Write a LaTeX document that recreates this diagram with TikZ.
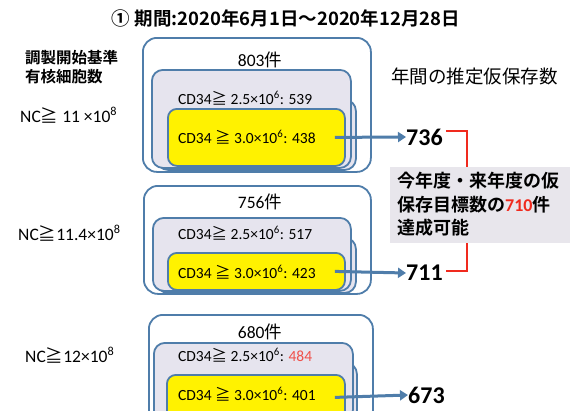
\documentclass[tikz,border=0pt]{standalone}
\usepackage{fontspec}
\setmainfont{Carlito}
\newfontfamily\cjk{Noto Sans CJK JP}
\newfontfamily\cjkb{Noto Sans CJK JP Bold}
\usetikzlibrary{arrows.meta}
\definecolor{bord}{HTML}{4F7DAA}
\definecolor{lav}{HTML}{E6E4EE}
\definecolor{graybg}{HTML}{E8E6EC}
\definecolor{brred}{HTML}{F02A1E}
\definecolor{numred}{HTML}{F0504A}
\begin{document}
\begin{tikzpicture}[x=1pt,y=-1pt,
  outerbox/.style={draw=bord,line width=1.8pt,rounded corners=14pt,fill=white,anchor=north west,inner sep=0pt},
  lavbox/.style={draw=bord,line width=1.8pt,rounded corners=11pt,fill=lav,anchor=north west,inner sep=0pt},
  yelbox/.style={draw=bord,line width=1.8pt,rounded corners=9pt,fill=yellow,anchor=north west,inner sep=0pt},
  cnt/.style={font=\fontsize{17.5}{19}\selectfont,inner sep=0pt},
  cdtxt/.style={font=\fontsize{15.5}{17}\selectfont,anchor=west,inner sep=0pt},
  nctxt/.style={font=\fontsize{17.5}{19}\selectfont,anchor=west,inner sep=0pt},
  bignum/.style={font=\fontsize{24}{26}\selectfont\bfseries,anchor=west,inner sep=0pt},
  arr/.style={draw=bord,line width=3pt,-{Triangle[length=8pt,width=10pt]}},
  brk/.style={draw=brred,line width=2.6pt}
]
\clip (0,0) rectangle (570,410);
\fill[white] (0,0) rectangle (570,410);

% title
\node[font=\fontsize{18.5}{20}\selectfont\cjkb,inner sep=0pt] (title) at (286,18) {① 期間:2020年6月1日〜2020年12月28日};
\node[font=\fontsize{15.5}{19}\selectfont\cjkb,align=left,anchor=west,inner sep=0pt] (crit) at (25,67) {調製開始基準\\有核細胞数};
\node[font=\fontsize{18.5}{20}\selectfont\cjk,anchor=west,inner sep=0pt] (head) at (391,76) {年間の推定仮保存数};

% group 1
\node[outerbox,minimum width=228pt,minimum height=134pt] (o1) at (142,37) {};
\node[lavbox,minimum width=199pt,minimum height=70pt] (lb1) at (156,99) {};
\node[lavbox,minimum width=199pt,minimum height=98pt] (la1) at (151,69) {};
\node[yelbox,minimum width=177pt,minimum height=57pt] (y1) at (167,108) {};
\node[cnt] (c1) at (260,60) {803{\cjk 件}};
\node[cdtxt] (m1) at (178,98) {CD34{\cjk ≧} 2.5×10\textsuperscript{6}: 539};
\node[cdtxt] (t1) at (178,137) {CD34 {\cjk ≧} 3.0×10\textsuperscript{6}: 438};
\node[nctxt] (nc1) at (20,115) {NC{\cjk ≧} 11 ×10\textsuperscript{8}};

% group 2
\node[outerbox,minimum width=227pt,minimum height=108pt] (o2) at (143,185) {};
\node[lavbox,minimum width=199pt,minimum height=55pt] (lb2) at (156,237) {};
\node[lavbox,minimum width=198pt,minimum height=73pt] (la2) at (152,217) {};
\node[yelbox,minimum width=177pt,minimum height=37pt] (y2) at (167,252) {};
\node[cnt] (c2) at (260,202) {756{\cjk 件}};
\node[cdtxt] (m2) at (178,233) {CD34{\cjk ≧} 2.5×10\textsuperscript{6}: 517};
\node[cdtxt] (t2) at (178,272) {CD34 {\cjk ≧} 3.0×10\textsuperscript{6}: 423};
\node[nctxt] (nc2) at (18,233) {NC{\cjk ≧}11.4×10\textsuperscript{8}};

% group 3
\node[outerbox,minimum width=224pt,minimum height=110pt] (o3) at (148,314) {};
\node[lavbox,minimum width=199pt,minimum height=60pt] (lb3) at (157,362) {};
\node[lavbox,minimum width=199pt,minimum height=78pt] (la3) at (153,342) {};
\node[yelbox,minimum width=178pt,minimum height=45pt] (y3) at (166,374) {};
\node[cnt] (c3) at (260,332) {680{\cjk 件}};
\node[cdtxt] (m3) at (178,355) {CD34{\cjk ≧} 2.5×10\textsuperscript{6}: \textcolor{numred}{484}};
\node[cdtxt] (t3) at (178,394) {CD34 {\cjk ≧} 3.0×10\textsuperscript{6}: 401};
\node[nctxt] (nc3) at (25,355) {NC{\cjk ≧}12×10\textsuperscript{8}};

% numbers
\node[bignum] (n1) at (406,137) {736};
\node[bignum] (n2) at (406,273) {711};
\node[bignum] (n3) at (408,395) {673};

% arrows
\draw[arr] ([xshift=-11pt]y1.east) -- (n1.west);
\draw[arr] ([xshift=-11pt]y2.east) -- (n2.west);
\draw[arr] ([xshift=-11pt]y3.east) -- (n3.west);

% bracket
\coordinate (bt) at (467,131);
\coordinate (bb) at (467,271);
\draw[brk] ([xshift=3pt]n1.east |- bt) -- (bt) -- (bb) -- ([xshift=3pt]n2.east |- bb);

% goal box
\node[fill=graybg,anchor=north west,minimum width=182pt,minimum height=76pt,inner sep=0pt] (goal) at (390,167) {};
\node[font=\fontsize{18}{23.5}\selectfont\cjkb,align=left,anchor=north west,inner sep=0pt] (goaltxt) at (397,172) {今年度・来年度の仮\\保存目標数の{\fontspec{Carlito}\bfseries\textcolor{brred}{710}}件\\達成可能};
\end{tikzpicture}
\end{document}
